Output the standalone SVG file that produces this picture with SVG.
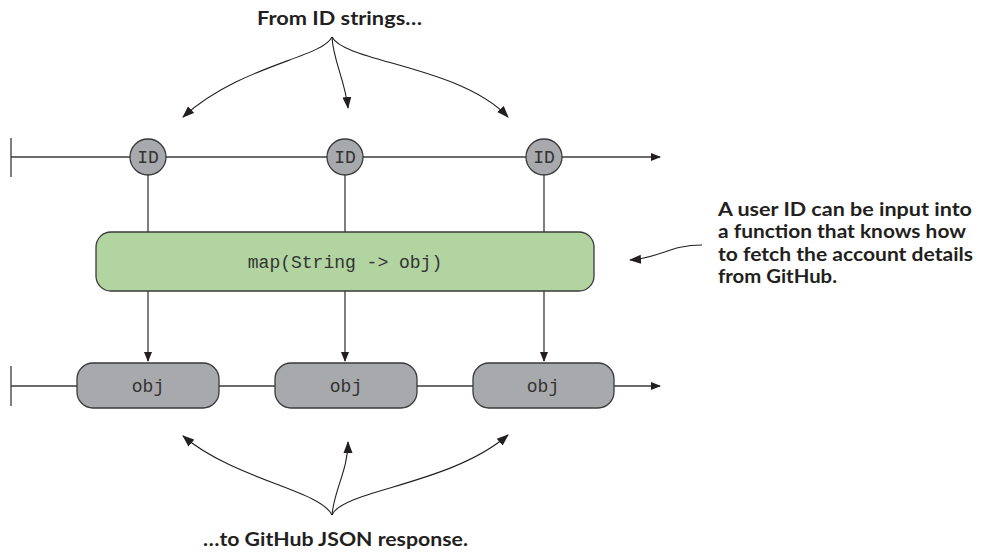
<svg xmlns="http://www.w3.org/2000/svg" width="983" height="552" viewBox="0 0 983 552">
<style>
.ln{stroke:#3a3a3a;stroke-width:1.3;fill:none}
.cv{stroke:#231f20;stroke-width:1.1;fill:none}
.node{fill:#a7a9ac;stroke:#3a3a3a;stroke-width:1.3}
.mono{font-family:"Liberation Mono","DejaVu Sans Mono",monospace;font-size:18px;fill:#333}
.lbl{font-family:Lato,"Open Sans",sans-serif;font-weight:bold;font-size:18px;fill:#231f20}
</style>
<defs>
<marker id="ah" viewBox="0 0 10 10" refX="9" refY="5" markerWidth="10" markerHeight="10" markerUnits="userSpaceOnUse" orient="auto">
<path d="M0,1 L10,5 L0,9 z" fill="#231f20"/>
</marker>
<marker id="ah2" viewBox="0 0 12 10" refX="11" refY="5" markerWidth="12" markerHeight="10" markerUnits="userSpaceOnUse" orient="auto">
<path d="M0,0.5 L12,5 L0,9.5 z" fill="#231f20"/>
</marker>
</defs>
<g id="connectors">
<line class="ln" x1="11" y1="138" x2="11" y2="177"/>
<line class="ln" x1="11" y1="157" x2="660" y2="157" marker-end="url(#ah)"/>
<line class="ln" x1="148" y1="175" x2="148" y2="232"/>
<line class="ln" x1="345" y1="175" x2="345" y2="232"/>
<line class="ln" x1="544" y1="175" x2="544" y2="232"/>
<line class="ln" x1="148" y1="291" x2="148" y2="361" marker-end="url(#ah)"/>
<line class="ln" x1="345" y1="291" x2="345" y2="361" marker-end="url(#ah)"/>
<line class="ln" x1="544" y1="291" x2="544" y2="361" marker-end="url(#ah)"/>
<line class="ln" x1="11" y1="366" x2="11" y2="406"/>
<line class="ln" x1="11" y1="386" x2="660" y2="386" marker-end="url(#ah)"/>
<path class="cv" d="M332,37 C322,58 240,65 183,117" marker-end="url(#ah2)"/>
<path class="cv" d="M332,37 C333,60 345,80 348,108" marker-end="url(#ah2)"/>
<path class="cv" d="M332,37 C345,62 460,66 508,117" marker-end="url(#ah2)"/>
<path class="cv" d="M332,515 C320,490 235,480 183,436" marker-end="url(#ah2)"/>
<path class="cv" d="M332,515 C334,490 348,470 348,442" marker-end="url(#ah2)"/>
<path class="cv" d="M332,515 C342,490 450,485 508,435" marker-end="url(#ah2)"/>
<path class="cv" d="M702,245 C670,245 660,258 630,260" marker-end="url(#ah2)"/>
</g>
<g id="id1"><circle class="node" cx="148" cy="157" r="18"/><text class="mono" x="148" y="163" text-anchor="middle">ID</text></g>
<g id="id2"><circle class="node" cx="345" cy="157" r="18"/><text class="mono" x="345" y="163" text-anchor="middle">ID</text></g>
<g id="id3"><circle class="node" cx="544" cy="157" r="18"/><text class="mono" x="544" y="163" text-anchor="middle">ID</text></g>
<g id="map"><rect x="96" y="232" width="498" height="59" rx="15" fill="#b1d4a0" stroke="#3a3a3a" stroke-width="1.3"/><text class="mono" x="345" y="268" text-anchor="middle">map(String -&gt; obj)</text></g>
<g id="obj1"><rect class="node" x="77" y="363" width="142" height="45" rx="16"/><text class="mono" x="148" y="392" text-anchor="middle">obj</text></g>
<g id="obj2"><rect class="node" x="275" y="363" width="142" height="45" rx="16"/><text class="mono" x="346" y="392" text-anchor="middle">obj</text></g>
<g id="obj3"><rect class="node" x="473" y="363" width="141" height="45" rx="16"/><text class="mono" x="543" y="392" text-anchor="middle">obj</text></g>
<g id="labels">
<text class="lbl" x="257" y="25" textLength="165" lengthAdjust="spacingAndGlyphs">From ID strings…</text>
<text class="lbl" x="203" y="546" textLength="265" lengthAdjust="spacingAndGlyphs">…to GitHub JSON response.</text>
<text class="lbl" x="718" y="216" textLength="254" lengthAdjust="spacingAndGlyphs">A user ID can be input into</text>
<text class="lbl" x="718" y="238" textLength="248" lengthAdjust="spacingAndGlyphs">a function that knows how</text>
<text class="lbl" x="718" y="261" textLength="255" lengthAdjust="spacingAndGlyphs">to fetch the account details</text>
<text class="lbl" x="718" y="283" textLength="119" lengthAdjust="spacingAndGlyphs">from GitHub.</text>
</g>
</svg>
